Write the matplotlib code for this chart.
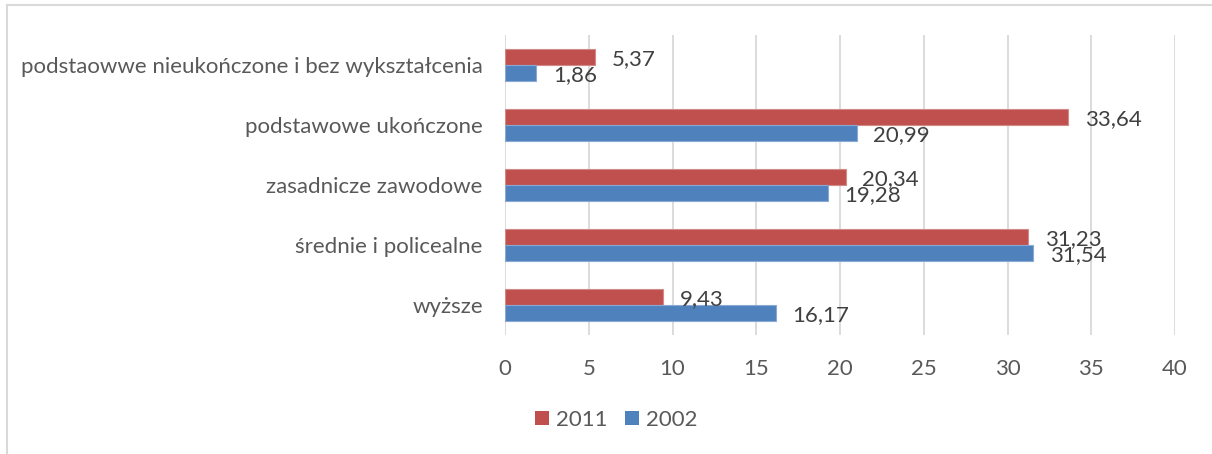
import numpy as np
import matplotlib
matplotlib.use("agg")
import matplotlib.pyplot as plt
from matplotlib.patches import Patch
from matplotlib.lines import Line2D

categories = ["podstaowwe nieukończone i bez wykształcenia",
              "podstawowe ukończone",
              "zasadnicze zawodowe",
              "średnie i policealne",
              "wyższe"]
vals_2011 = [5.37, 33.64, 20.34, 31.23, 9.43]
vals_2002 = [1.86, 20.99, 19.28, 31.54, 16.17]
series_names = ["2011", "2002"]

red = "#C0504D"
blue = "#4F81BD"
txt = "#595959"
lbl = "#404040"
grid = "#D9D9D9"
fs = 16

plt.rcParams["font.family"] = ["Lato", "DejaVu Sans"]

W, H = 1212, 454
fig = plt.figure(figsize=(W / 100, H / 100), dpi=100)
ax = fig.add_axes([505 / W, 1 - 335 / H, 670 / W, 300 / H])

n = len(categories)
y = np.arange(n)[::-1].astype(float)
h = 0.267
ax.barh(y + h / 2, vals_2011, height=h, color=red, edgecolor="#D28A88", linewidth=0.8, zorder=3)
ax.barh(y - h / 2, vals_2002, height=h, color=blue, edgecolor="#8AA8D4", linewidth=0.8, zorder=3)

# data labels, Excel style: just past the bar end
for yi, v in zip(y, vals_2011):
    ax.annotate(f"{v:.2f}".replace(".", ","), (v, yi + h / 2), xytext=(12, -1.5),
                textcoords="offset points", va="center", ha="left", fontsize=fs, color=lbl)
for yi, v in zip(y, vals_2002):
    ax.annotate(f"{v:.2f}".replace(".", ","), (v, yi - h / 2), xytext=(12, -1.5),
                textcoords="offset points", va="center", ha="left", fontsize=fs, color=lbl)

ax.set_xlim(0, 40)
ax.set_ylim(-0.5, n - 0.5)
ax.set_xticks(np.arange(0, 41, 5))
ax.set_yticks(y)
ax.set_yticklabels(categories)
ax.tick_params(axis="both", length=0, colors=txt, labelsize=fs)
ax.tick_params(axis="y", pad=16)
ax.tick_params(axis="x", pad=17)
ax.grid(axis="x", color=grid, linewidth=1.3, zorder=0)
for s in ax.spines.values():
    s.set_visible(False)

# chart frame (left and top edges visible)
fig.add_artist(Line2D([6.5 / W, 6.5 / W], [0, 1 - 5 / H], transform=fig.transFigure, color=grid, linewidth=1.5))
fig.add_artist(Line2D([6.5 / W, 1], [1 - 5 / H, 1 - 5 / H], transform=fig.transFigure, color=grid, linewidth=1.5))

handles = [Patch(facecolor=red), Patch(facecolor=blue)]
fig.legend(handles, series_names, loc="center", bbox_to_anchor=(616 / W, 1 - 420 / H),
           ncol=2, frameon=False, fontsize=fs, labelcolor=txt,
           handlelength=0.63, handleheight=0.63, handletextpad=0.3, columnspacing=0.8,
           borderpad=0, borderaxespad=0)

fig.savefig("out.png", dpi=100, facecolor="white")
